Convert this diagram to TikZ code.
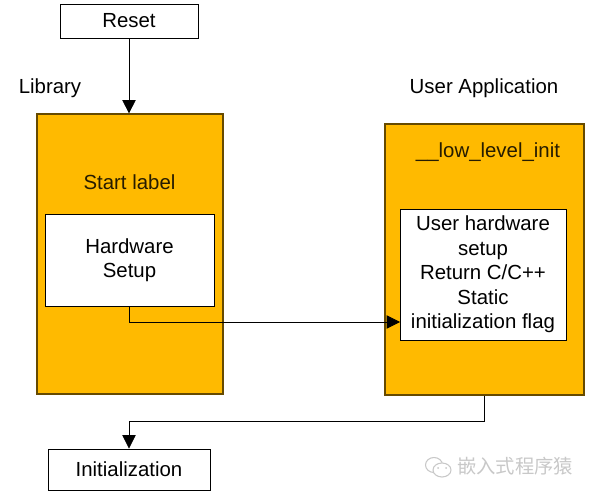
\documentclass[tikz,border=0pt]{standalone}
\usepackage{fontspec}
\setmainfont{Liberation Sans}
\newfontfamily\cjk{Noto Sans CJK SC}
\usepackage{xcolor}
\usetikzlibrary{arrows.meta}
\definecolor{libyellow}{RGB}{255,186,0}
\definecolor{markgray}{RGB}{200,200,200}
\tikzset{
  plainbox/.style={draw=black,fill=white,line width=0.7pt,inner sep=0pt,align=center,font=\fontsize{15.3}{18.4}\selectfont},
  yellowbox/.style={draw=black!60!libyellow,fill=libyellow,line width=0.9pt,inner sep=0pt},
  plainlabel/.style={inner sep=0pt,font=\fontsize{15.3}{18}\selectfont},
  flowline/.style={line width=0.6pt,-{Triangle[length=10pt,width=10pt]}}
}
\begin{document}
\begin{tikzpicture}[x=0.75pt,y=-0.75pt]
\useasboundingbox (0,0) rectangle (589,495);
\node[plainbox,minimum width=103.5pt,minimum height=25.5pt] (reset) at (129,21) {\raisebox{1pt}{Reset}};
\node[yellowbox,minimum width=139.5pt,minimum height=210pt] (lib) at (130,254) {};
\node[plainbox,minimum width=126.75pt,minimum height=69pt] (hw) at (129.5,260) {Hardware\\Setup};
\node[yellowbox,minimum width=149.25pt,minimum height=203.25pt] (app) at (484.5,259.5) {};
\node[plainbox,minimum width=124.5pt,minimum height=98.25pt] (user) at (483,274.5) {User hardware\\setup\\Return C/C++\\Static\\initialization flag};
\node[plainbox,minimum width=121.5pt,minimum height=30.75pt] (init) at (129,469.5) {Initialization};
% labels
\node[plainlabel] (liblabel) at (50,88) {Library};
\node[plainlabel] (applabel) at (484,88) {User Application};
\node[plainlabel,text=black!85!libyellow] (startlabel) at (129.5,182) {Start label};
\node[plainlabel,text=black!85!libyellow] (initlabel) at (488,152) {\_\_low\_level\_init};
% connectors
\coordinate (userin) at (400,322);
\coordinate (appdown) at (484.5,421);
\draw[flowline] (reset.south) -- (reset.south |- lib.north);
\draw[flowline] (hw.south) |- (userin);
\draw[flowline] (app.south) -- (appdown) -| (init.north);
% watermark
\node[inner sep=0pt,text=markgray,font=\cjk\fontsize{14.5}{18}\selectfont] (mark) at (515,466) {嵌入式程序猿};
\draw[markgray,line width=0.8pt] (434,465) ellipse (8.5 and 7.5);
\draw[markgray,fill=white,line width=0.8pt] (442,470) ellipse (9 and 7);
\fill[markgray] (438,468) circle (1) (446,468) circle (1);
\end{tikzpicture}
\end{document}
